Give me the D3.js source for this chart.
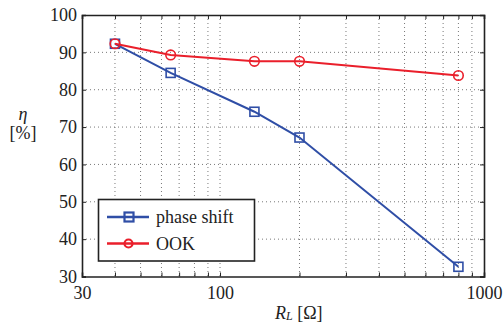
<!DOCTYPE html>
<html><head><meta charset="utf-8">
<script src="https://cdn.jsdelivr.net/npm/d3@7"></script>
<style>body{margin:0;background:#fff}svg{display:block}</style>
</head><body><svg id="c" width="503" height="324" font-family="Liberation Serif"></svg>
<script>
const resistance = [40, 65, 135, 200, 800];
const phaseShift = [92.3, 84.5, 74.1, 67.2, 32.6];
const ook = [92.3, 89.3, 87.6, 87.6, 83.8];
const yTicks = [30, 40, 50, 60, 70, 80, 90, 100];
const xTickLabels = [30, 100, 1000];
const xGrid = [30,40,50,60,70,80,90,100,200,300,400,500,600,700,800,900,1000];
const seriesNames = ["phase shift", "OOK"];

const FF = "'Liberation Serif', monospace";
const svg = d3.select("#c");
const L = 82, R = 484, T = 15, B = 276.5;
const x = d3.scaleLog().domain([30, 1000]).range([L, R]);
const y = d3.scaleLinear().domain([30, 100]).range([B, T]);
const blue = "#2f4ea6", red = "#ea1f2b";

// grid
const g = svg.append("g");
g.selectAll("line.vx").data(xGrid.filter(v => v > 30 && v < 1000)).join("line")
  .attr("x1", d => x(d)).attr("x2", d => x(d)).attr("y1", T).attr("y2", B)
  .attr("stroke", "#555").attr("stroke-width", 0.8).attr("stroke-dasharray", "1,3");
g.selectAll("line.hy").data(yTicks.filter(v => v > 30 && v < 100)).join("line")
  .attr("x1", L).attr("x2", R).attr("y1", d => y(d)).attr("y2", d => y(d))
  .attr("stroke", "#555").attr("stroke-width", 0.8).attr("stroke-dasharray", "1,3");

// axes (ticks inside)
const ax = svg.append("g");
const bottom = ax.append("g").attr("transform", `translate(0,${B})`)
  .call(d3.axisBottom(x).tickValues(xGrid).tickSize(-4).tickFormat(d => xTickLabels.includes(d) ? d : ""));
ax.append("g").attr("transform", `translate(0,${T})`)
  .call(d3.axisTop(x).tickValues(xGrid).tickSize(-4).tickFormat(""));
const left = ax.append("g").attr("transform", `translate(${L},0)`)
  .call(d3.axisLeft(y).tickValues(yTicks).tickSize(-4).tickFormat(d3.format("d")));
ax.append("g").attr("transform", `translate(${R},0)`)
  .call(d3.axisRight(y).tickValues(yTicks).tickSize(-4).tickFormat(""));
ax.selectAll("g").attr("font-family", "Liberation Serif");
ax.selectAll(".domain").attr("stroke", "#222").attr("stroke-width", 1.6);
ax.selectAll(".tick line").attr("stroke", "#222").attr("stroke-width", 1);
ax.selectAll(".tick text").attr("font-size", 18).style("font-family", FF).style("fill", "#222");
left.selectAll(".tick text").attr("x", -5);
bottom.selectAll(".tick text").attr("y", 10);

// series
const line = d3.line().x(d => x(d[0])).y(d => y(d[1]));
const sets = [
  {name: seriesNames[0], vals: phaseShift, color: blue, shape: "square"},
  {name: seriesNames[1], vals: ook, color: red, shape: "circle"}
];
sets.forEach(s => {
  const pts = resistance.map((r, i) => [r, s.vals[i]]);
  svg.append("path").datum(pts).attr("d", line).attr("fill", "none")
    .attr("stroke", s.color).attr("stroke-width", 2);
  if (s.shape === "square") {
    svg.selectAll(null).data(pts).join("rect")
      .attr("x", d => x(d[0]) - 4.5).attr("y", d => y(d[1]) - 4.5)
      .attr("width", 9).attr("height", 9).attr("fill", "none")
      .attr("stroke", s.color).attr("stroke-width", 1.6);
  } else {
    svg.selectAll(null).data(pts).join("circle")
      .attr("cx", d => x(d[0])).attr("cy", d => y(d[1])).attr("r", 4.8)
      .attr("fill", "none").attr("stroke", s.color).attr("stroke-width", 1.6);
  }
});

// legend
const lg = svg.append("g");
lg.append("rect").attr("x", 98.5).attr("y", 199.5).attr("width", 156).attr("height", 61.5)
  .attr("fill", "#fff").attr("stroke", "#222").attr("stroke-width", 1.6);
sets.forEach((s, i) => {
  const yy = 217 + i * 26.5;
  lg.append("line").attr("x1", 107).attr("x2", 149).attr("y1", yy).attr("y2", yy)
    .attr("stroke", s.color).attr("stroke-width", 2.4);
  if (s.shape === "square") {
    lg.append("rect").attr("x", 124.5).attr("y", yy - 4.5).attr("width", 9).attr("height", 9)
      .attr("fill", "none").attr("stroke", s.color).attr("stroke-width", 2.2);
  } else {
    lg.append("circle").attr("cx", 128.5).attr("cy", yy).attr("r", 4)
      .attr("fill", "none").attr("stroke", s.color).attr("stroke-width", 2.2);
  }
  lg.append("text").attr("x", 156).attr("y", yy + 6).attr("font-size", 18)
    .style("font-family", FF).style("fill", "#222").text(s.name);
});

// axis labels
const lab = svg.append("g");
lab.append("text").attr("x", 23).attr("y", 120).attr("text-anchor", "middle")
  .attr("font-size", 18).attr("font-style", "italic").style("font-family", FF).text("η");
lab.append("text").attr("x", 23).attr("y", 139).attr("text-anchor", "middle")
  .attr("font-size", 18).style("font-family", FF).text("[%]");
const xl = lab.append("text").attr("x", 275).attr("y", 319).attr("font-size", 18).style("font-family", FF);
xl.append("tspan").attr("font-style", "italic").text("R");
xl.append("tspan").attr("font-style", "italic").attr("font-size", 12).attr("dy", 1).text("L");
xl.append("tspan").attr("dy", -1).text(" [Ω]");

svg.selectAll("text").style("font-family", FF).style("fill", "#222");
</script></body></html>
